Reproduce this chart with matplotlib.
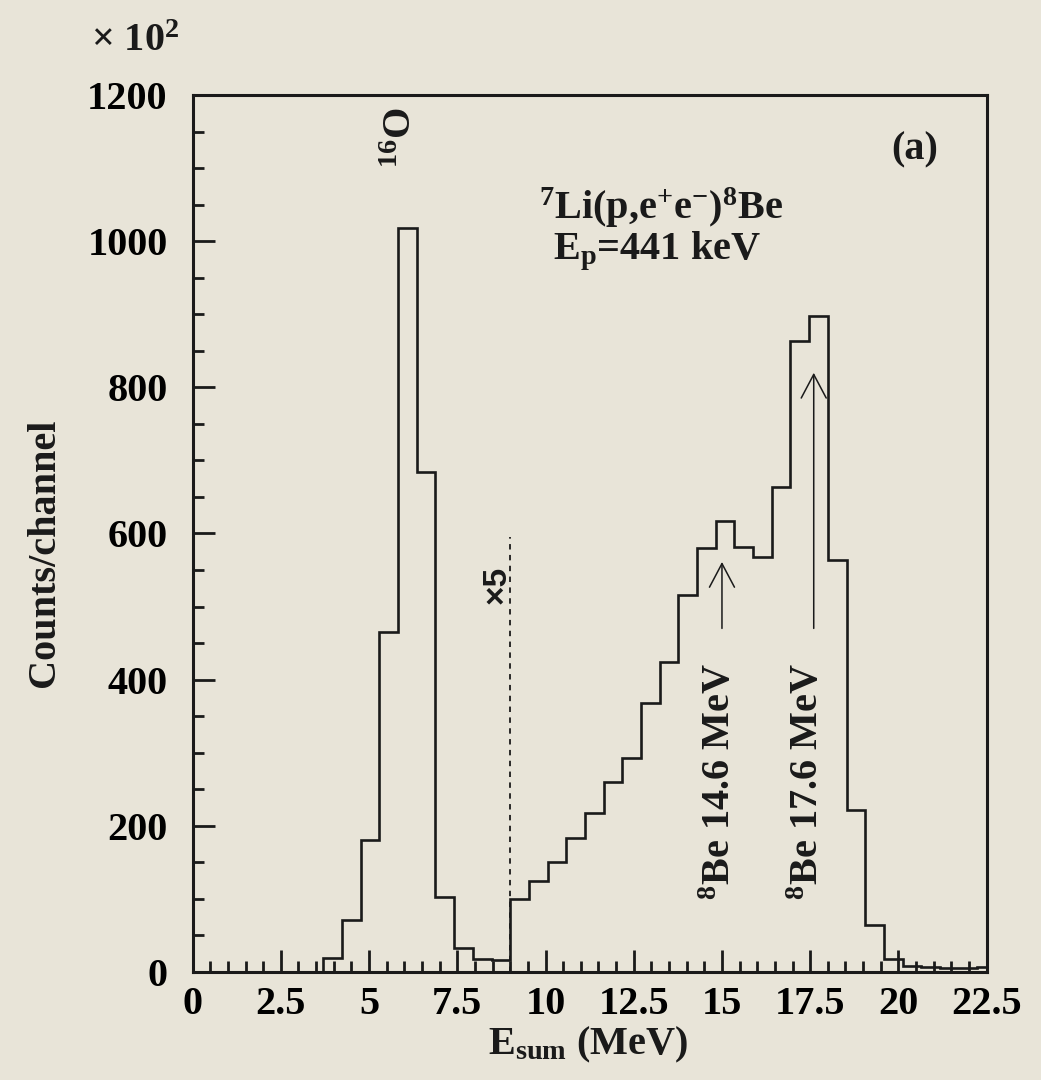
import numpy as np
import matplotlib
matplotlib.use("Agg")
from matplotlib import pyplot as plt

# histogram of E_sum, channel width 9/17 MeV, starting at 0
bin_width = 9.0 / 17.0
counts = [0, 0, 0, 0, 0, 0, 0,
          19, 71, 180, 465, 1018, 684, 102, 32, 18, 16,
          100, 124, 150, 183, 217, 260, 293, 368, 424, 516,
          580, 617, 581, 568, 663, 863, 898, 563, 221, 64,
          17, 8, 6, 5, 5, 6]

x_ticks = [0, 2.5, 5, 7.5, 10, 12.5, 15, 17.5, 20, 22.5]
x_tick_labels = ["0", "2.5", "5", "7.5", "10", "12.5", "15", "17.5", "20", "22.5"]
y_ticks = [0, 200, 400, 600, 800, 1000, 1200]

scale_x = 9.0        # start of the x5 region
scale_top = 595
arrow_x = [15.0, 17.6]
arrow_tail = [470, 470]
arrow_tip = [561, 820]
line_labels = [r"$^{8}$Be 14.6 MeV", r"$^{8}$Be 17.6 MeV"]
line_label_x = [14.97, 17.46]

plt.rcParams["font.family"] = "Liberation Serif"
plt.rcParams["font.weight"] = "bold"
plt.rcParams["mathtext.fontset"] = "custom"
plt.rcParams["mathtext.rm"] = "Liberation Serif:bold"
plt.rcParams["mathtext.it"] = "Liberation Serif:bold"
plt.rcParams["mathtext.bf"] = "Liberation Serif:bold"
plt.rcParams["mathtext.default"] = "rm"

bg = "#e8e4d8"
ink = "#1a1a1a"
fs = 29
fig = plt.figure(figsize=(10.41, 10.8), dpi=100, facecolor=bg)
ax = fig.add_axes([0.185, 0.1003, 0.7628, 0.8115])
ax.set_facecolor(bg)

edges = np.arange(len(counts) + 1) * bin_width
ax.stairs(counts, edges, color=ink, lw=1.9)

ax.vlines(scale_x, 0, scale_top, colors=ink, lw=1.3, linestyles=(0, (3, 3)))

for x, t0, t1 in zip(arrow_x, arrow_tail, arrow_tip):
    ax.annotate("", xy=(x, t1), xytext=(x, t0),
                arrowprops=dict(arrowstyle="->, head_length=0.85, head_width=0.45",
                                lw=1.1, color=ink, shrinkA=0, shrinkB=0,
                                mutation_scale=20))

ax.set_xlim(0, 22.5)
ax.set_ylim(0, 1200)
ax.set_xticks(x_ticks)
ax.set_xticklabels(x_tick_labels)
ax.set_yticks(y_ticks)
ax.set_xticks(np.arange(0, 22.51, 0.5), minor=True)
ax.set_yticks(np.arange(0, 1201, 50), minor=True)
ax.tick_params(which="both", direction="in", top=False, right=False,
               color=ink, labelsize=fs)
ax.tick_params(which="major", length=16, width=2)
ax.tick_params(which="minor", length=8, width=2)
ax.tick_params(axis="x", pad=10)
ax.tick_params(axis="y", pad=18)
for s in ax.spines.values():
    s.set_linewidth(2.2)
    s.set_color(ink)

txt = dict(color=ink, fontsize=fs, fontweight="bold")
ax.text(5.93, 1142, r"$^{16}$O", rotation=90, ha="center", va="center", **txt)
ax.text(20.47, 1125, "(a)", ha="center", va="center", **txt)
ax.text(13.27, 1031, r"$^{7}$Li(p,e$^{+}$e$^{-}$)$^{8}$Be", ha="center", va="baseline", **txt)
ax.text(13.16, 976, r"E$_{p}$=441 keV", ha="center", va="baseline", **txt)
for lx, lab in zip(line_label_x, line_labels):
    ax.text(lx, 260, lab, rotation=90, ha="center", va="center", **txt)
ax.text(8.63, 529, "×5", rotation=90, ha="center", va="center",
        family="Liberation Sans", fontsize=24, fontweight="bold", color=ink)

fig.text(0.0874, 0.953, r"× 10$^{2}$", ha="left", va="baseline", **txt)
fig.text(45 / 1041, 1 - 553 / 1080, "Counts/channel", rotation=90,
         ha="center", va="center", **txt)
fig.text(588 / 1041, 1 - 1045 / 1080, r"E$_{sum}$ (MeV)", ha="center", va="center", **txt)

fig.savefig("out.png", dpi=100, facecolor=bg)
